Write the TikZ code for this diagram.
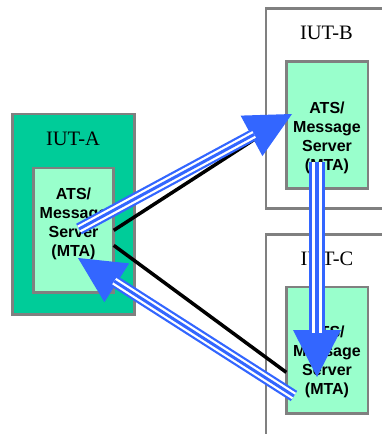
\documentclass[tikz,border=0pt]{standalone}
\usepackage{fontspec}
\setmainfont{Liberation Serif}
\setsansfont{Liberation Sans}
\usetikzlibrary{arrows.meta}
\definecolor{iutgreen}{HTML}{00CC99}
\definecolor{mtagreen}{HTML}{99FFCC}
\definecolor{framegray}{HTML}{808080}
\definecolor{msgblue}{HTML}{3366FF}

\begin{document}
\begin{tikzpicture}[x=1pt,y=-1pt]
		\tikzstyle{Box}		= [rectangle, draw=framegray, line width=2.7pt, outer sep=0pt, inner sep=0pt]
		\tikzstyle{IUT}		= [Box, fill=white, anchor=north west]
		\tikzstyle{MTA}		= [Box, fill=mtagreen, minimum width=81.7pt]
		\tikzstyle{Title}	= [anchor=base, inner sep=0pt, font=\fontsize{20.5}{24}\selectfont]
		\tikzstyle{Label}	= [align=center, inner sep=0pt, font=\fontsize{16}{19}\selectfont\sffamily\bfseries]
		\tikzstyle{Link}	= [line width=3.5pt, black]
		\tikzstyle{MsgV}	= [draw=msgblue, line width=16pt, -{Triangle[length=47pt,width=48pt,line width=0pt]},
								postaction={draw=white, line width=10pt, -, shorten >=44pt},
								postaction={draw=msgblue, line width=4pt, -, shorten >=44pt}]
		\tikzstyle{MsgD}	= [draw=msgblue, line width=12pt, -{Triangle[length=46pt,width=46pt,line width=0pt]},
								postaction={draw=white, line width=7.5pt, -, shorten >=43pt},
								postaction={draw=msgblue, line width=3pt, -, shorten >=43pt}]
		
		\useasboundingbox (0,0) rectangle (382,434);
		\clip (0,0) rectangle (382,434);
		
		\node (iutA) at (73.5,214.25) [Box, fill=iutgreen, minimum width=122pt, minimum height=200.5pt] {};
		\node (iutB) at (266,8.7) [IUT, minimum width=200pt, minimum height=200pt] {};
		\node (iutC) at (266,234.5) [IUT, minimum width=200pt, minimum height=250pt] {};
		
		\node (mtaA) at (73.5,230.35) [MTA, minimum width=80.4pt, minimum height=124.7pt] {};
		\node (mtaB) at (327.15,124.8) [MTA, minimum height=127pt] {};
		\node (mtaC) at (327.15,350.35) [MTA, minimum height=126.7pt] {};
		
		\node (titleA) at (73,145) [Title] {IUT-A};
		\node (titleB) at (326.5,39) [Title] {IUT-B};
		\node (titleC) at (327,265) [Title] {IUT-C};
		
		\node (textA) at (73.5,223.5) [Label] {ATS/\\Message\\Server\\(MTA)};
		\node (textB) at (327,138) [Label] {ATS/\\Message\\Server\\(MTA)};
		\node (textC) at (327,362) [Label] {ATS/\\Message\\Server\\(MTA)};
		
		\draw (mtaA.east) to ([yshift=6pt]mtaB.west) [Link];
		\draw ([yshift=-15pt]mtaA.east) to ([yshift=-22pt]mtaC.west) [Link];
		
		\coordinate (ab0) at (79,229);
		\coordinate (ab1) at (292,114);
		\coordinate (bc0) at (317,162);
		\coordinate (bc1) at (317,377);
		\coordinate (ca0) at (294,396);
		\coordinate (ca1) at (78,258);
		
		\draw (ab0) to (ab1) [MsgD];
		\draw (bc0) to (bc1) [MsgV];
		\draw (ca0) to (ca1) [MsgD];
	\end{tikzpicture}
\end{document}
